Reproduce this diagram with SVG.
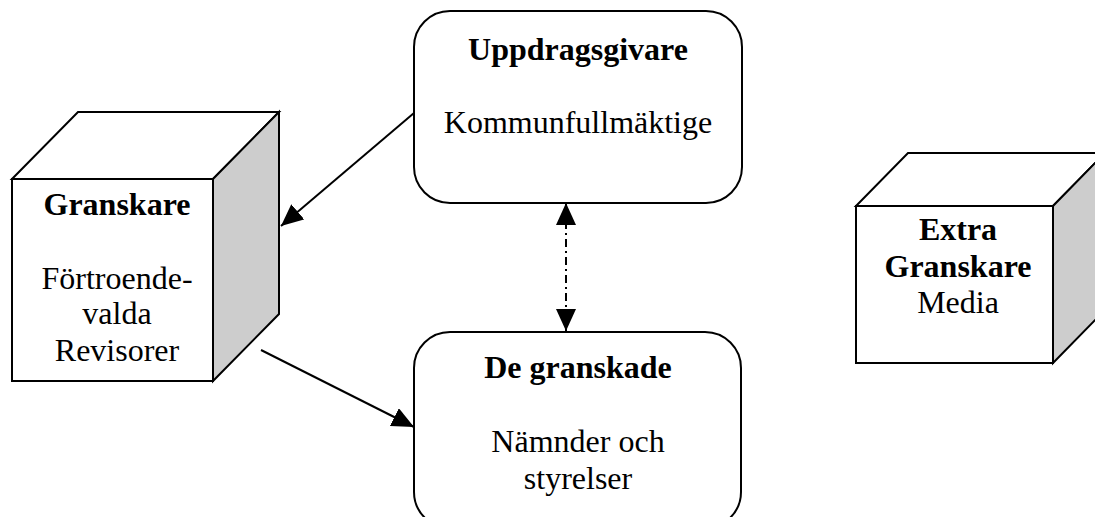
<svg xmlns="http://www.w3.org/2000/svg" width="1095" height="517" viewBox="0 0 1095 517">
<style>
.edge{stroke:#000;stroke-width:2;fill:none;stroke-linejoin:miter}
.face{fill:#fff;stroke:#000;stroke-width:2;stroke-linejoin:miter}
.side{fill:#cdcdcd;stroke:#000;stroke-width:2;stroke-linejoin:miter}
.box{fill:#fff;stroke:#000;stroke-width:2}
text{font-family:"Liberation Serif","Times New Roman",serif;font-size:32px;fill:#000;text-anchor:middle}
.b{font-weight:bold}
.conn{stroke:#000;stroke-width:2;fill:none}
.dash{stroke-dasharray:8 4 2 4}
</style>
<defs>
<marker id="arr" viewBox="0 0 22 20" refX="22" refY="10" markerWidth="22" markerHeight="20" markerUnits="userSpaceOnUse" orient="auto-start-reverse">
<path d="M0,0 L22,10 L0,20 z" fill="#000"/>
</marker>
</defs>
<g id="granskare">
<polygon class="face" points="12,179 78,112 279,112 213,179"/>
<polygon class="side" points="213,179 279,112 279,314 213,381"/>
<rect class="face" x="12" y="179" width="201" height="202"/>
<text class="b" x="117" y="215">Granskare</text>
<text x="117" y="289">Förtroende-</text>
<text x="117" y="324">valda</text>
<text x="117" y="361">Revisorer</text>
</g>
<g id="uppdragsgivare">
<rect class="box" x="414" y="11" width="328" height="192" rx="36" ry="36"/>
<text class="b" x="578" y="60">Uppdragsgivare</text>
<text x="578" y="133">Kommunfullmäktige</text>
</g>
<g id="granskade">
<rect class="box" x="414" y="332" width="327" height="196" rx="36" ry="36"/>
<text class="b" x="578" y="378">De granskade</text>
<text x="578" y="452">Nämnder och</text>
<text x="578" y="489">styrelser</text>
</g>
<g id="extra">
<polygon class="face" points="856,206 908,153 1105,153 1053,206"/>
<polygon class="side" points="1053,206 1105,153 1105,310 1053,363"/>
<rect class="face" x="856" y="206" width="197" height="157"/>
<text class="b" x="958" y="240">Extra</text>
<text class="b" x="958" y="277">Granskare</text>
<text x="958" y="313">Media</text>
</g>
<g id="connectors">
<line class="conn" x1="414" y1="113" x2="281" y2="226" marker-end="url(#arr)"/>
<line class="conn" x1="261" y1="350" x2="414" y2="427" marker-end="url(#arr)"/>
<line class="conn dash" x1="566" y1="203" x2="566" y2="331" marker-start="url(#arr)" marker-end="url(#arr)"/>
</g>
</svg>
